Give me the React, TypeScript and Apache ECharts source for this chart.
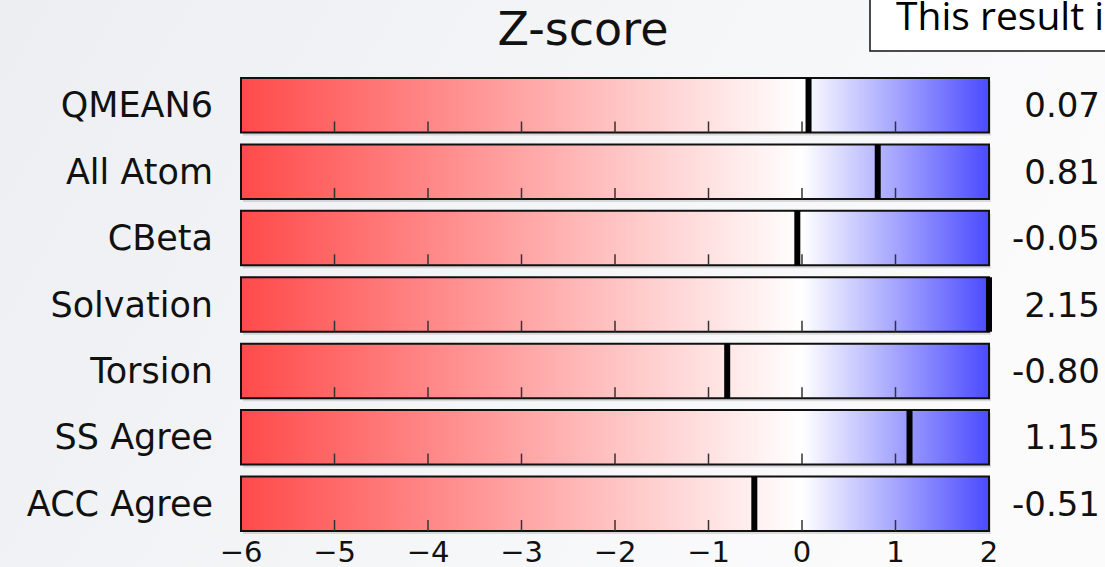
import React, { useEffect, useRef } from "react";
import * as echarts from "echarts";

const categories = ["QMEAN6", "All Atom", "CBeta", "Solvation", "Torsion", "SS Agree", "ACC Agree"];
const scores = [0.07, 0.81, -0.05, 2.15, -0.8, 1.15, -0.51];
const scoreLabels = ["0.07", "0.81", "-0.05", "2.15", "-0.80", "1.15", "-0.51"];
const xMin = -6;
const xMax = 2;
const innerTicks = [-5, -4, -3, -2, -1, 0, 1];
const titleText = "Z-score";
const noteText = "This result i";

const FONT = "DejaVu Sans";

export default function App() {
  const ref = useRef<HTMLDivElement>(null);
  useEffect(() => {
    document.body.style.margin = "0";
    const chart = echarts.init(ref.current!, undefined, { renderer: "svg" });
    const option: any = {
      animation: false,
      backgroundColor: new echarts.graphic.LinearGradient(0, 0, 1, 0.3, [
        { offset: 0, color: "#eceef1" },
        { offset: 1, color: "#fbfbfc" },
      ]),
      textStyle: { fontFamily: FONT },
      grid: { left: 241, right: 116, top: 72, bottom: 30 },
      xAxis: {
        type: "value",
        min: xMin,
        max: xMax,
        interval: 1,
        axisLine: { show: false },
        axisTick: { show: false },
        splitLine: { show: false },
        axisLabel: {
          fontSize: 29,
          lineHeight: 22,
          color: "#111",
          fontFamily: FONT,
          margin: 4,
          formatter: (v: number) => (v < 0 ? "\u2212" + Math.abs(v) : String(v)),
        },
      },
      yAxis: [
        {
          type: "category",
          inverse: true,
          data: categories,
          axisLine: { show: false },
          axisTick: { show: false },
          axisLabel: { fontSize: 35, color: "#111", fontFamily: FONT, margin: 28 },
        },
        {
          type: "category",
          inverse: true,
          position: "right",
          data: scoreLabels,
          axisLine: { show: false },
          axisTick: { show: false },
          axisLabel: { fontSize: 34, color: "#111", fontFamily: FONT, margin: 111, align: "right" },
        },
      ],
      series: [
        {
          type: "custom",
          data: scores.map((s, i) => [i, s]),
          encode: { x: 1, y: 0 },
          renderItem: (params: any, api: any) => {
            const idx = api.value(0);
            const val = Math.min(Math.max(api.value(1), xMin), xMax);
            const band = api.size([0, 1])[1];
            const h = band * 0.82;
            const c = api.coord([xMin, idx]);
            const e = api.coord([xMax, idx]);
            const m = api.coord([val, idx]);
            const top = c[1] - h / 2;
            const bottom = c[1] + h / 2;
            const children: any[] = [
              {
                type: "rect",
                shape: { x: c[0] + 2, y: top + 3, width: e[0] - c[0], height: h },
                style: { fill: "rgba(0,0,0,0.12)" },
              },
              {
                type: "rect",
                shape: { x: c[0], y: top, width: e[0] - c[0], height: h },
                style: {
                  fill: new echarts.graphic.LinearGradient(0, 0, 1, 0, [
                    { offset: 0, color: "#ff4a4a" },
                    { offset: 0.75, color: "#ffffff" },
                    { offset: 1, color: "#4b4bff" },
                  ]),
                  stroke: "#111",
                  lineWidth: 2,
                },
              },
            ];
            innerTicks.forEach((t) => {
              const p = api.coord([t, idx]);
              children.push({
                type: "line",
                shape: { x1: p[0], y1: bottom, x2: p[0], y2: bottom - 11 },
                style: { stroke: "#333", lineWidth: 1.5 },
              });
            });
            children.push({
              type: "rect",
              shape: { x: m[0] - 3, y: top, width: 6, height: h },
              style: { fill: "#000" },
            });
            return { type: "group", children };
          },
        },
      ],
      graphic: [
        {
          type: "text",
          x: 583,
          y: 29,
          style: {
            text: titleText,
            fontSize: 46,
            fontFamily: FONT,
            fill: "#111",
            textAlign: "center",
            textVerticalAlign: "middle",
          },
        },
        {
          type: "rect",
          shape: { x: 870, y: -5, width: 300, height: 56 },
          style: { fill: "#ffffff", stroke: "#111", lineWidth: 1.5 },
        },
        {
          type: "text",
          x: 896,
          y: 14,
          style: {
            text: noteText,
            fontSize: 39,
            fontFamily: "Open Sans",
            fill: "#000",
            textVerticalAlign: "middle",
          },
        },
      ],
    };
    chart.setOption(option);
    return () => chart.dispose();
  }, []);
  return <div ref={ref} style={{ width: 1105, height: 567 }} />;
}
